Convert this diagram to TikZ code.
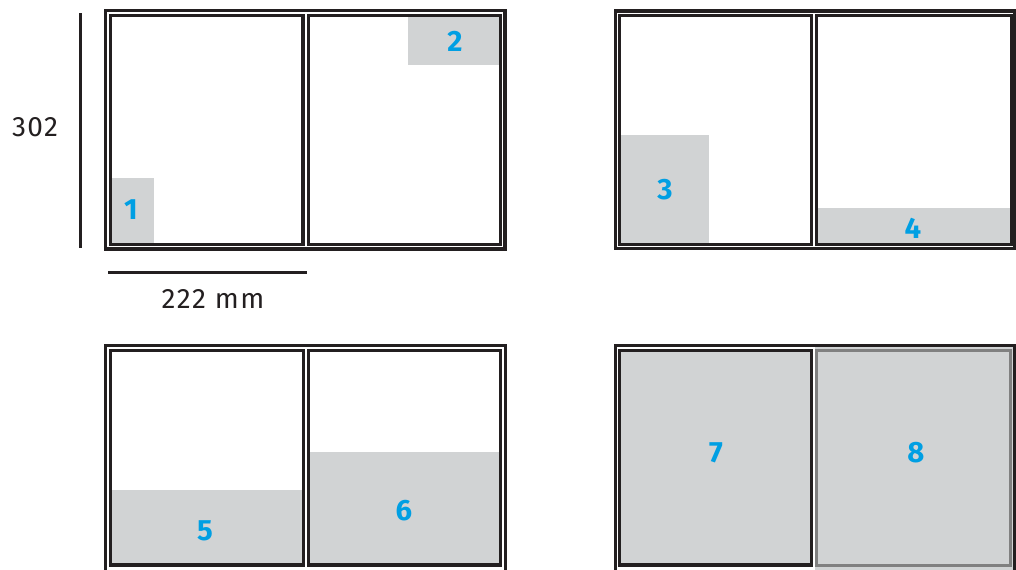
\documentclass[tikz,border=0pt]{standalone}
\usepackage{fontspec}
\setmainfont{Fira Sans}
\newfontfamily\dimfont[LetterSpace=5]{Fira Sans}
\definecolor{ink}{HTML}{231F20}
\definecolor{paper}{HTML}{D1D3D4}
\definecolor{pgrey}{HTML}{808080}
\definecolor{num}{HTML}{009FE3}
\begin{document}
\begin{tikzpicture}[x=0.75pt,y=-0.75pt,
  frame/.style={draw=ink,line width=2.3pt},
  greyframe/.style={draw=pgrey,line width=2.3pt},
  shade/.style={fill=paper},
  numlabel/.style={text=num,font=\fontsize{22}{24}\selectfont\bfseries,inner sep=0pt},
  dimlabel/.style={text=ink,font=\dimfont\fontsize{21}{24}\selectfont,inner sep=0pt},
  dimline/.style={draw=ink,line width=1.9pt}]
\useasboundingbox (0,0) rectangle (1016,569);
\clip (0,0) rectangle (1016,569);

% ---------- shaded areas ----------
\fill[shade] (111.5,178) rectangle (154,243);
\fill[shade] (408,16) rectangle (499.5,65);
\fill[shade] (620.5,135) rectangle (709,243);
\fill[shade] (817.5,208) rectangle (1010,243);
\fill[shade] (111.5,490) rectangle (302,564);
\fill[shade] (309.5,452) rectangle (499.5,564);
\fill[shade] (619.8,350.8) rectangle (811.3,565);
\fill[shade] (814.5,347.3) rectangle (1013.3,575);

% ---------- spread A (top left) ----------
\draw[frame] (105.8,10.8) rectangle (505,249);
\draw[frame] (110.5,15.5) rectangle (303,244.3);
\draw[frame] (308.3,15.5) rectangle (500.5,244.3);

% ---------- spread B (top right) ----------
\draw[frame] (615.3,11) rectangle (1014.8,248.8);
\draw[frame] (619.6,15.5) rectangle (811.3,244.3);
\draw[frame] (816.3,15.5) rectangle (1011.2,244.3);

% ---------- spread C (bottom left) ----------
\draw[frame] (105.7,345.7) rectangle (505.7,573);
\draw[frame] (110.7,350.8) rectangle (303.2,565);
\draw[frame] (308.7,350.8) rectangle (500.5,565);

% ---------- spread D (bottom right) ----------
\draw[frame] (615.2,345.7) rectangle (1014.8,573);
\draw[frame] (619.8,350.8) rectangle (811.3,565);
\draw[greyframe] (816.5,350.8) rectangle (1010.8,565.5);

% ---------- dimensions ----------
\coordinate (vtop) at (80.5,13);
\coordinate (vbot) at (80.5,248);
\coordinate (hl) at (108,272.5);
\coordinate (hr) at (307,272.5);
\draw[dimline] (vtop) -- (vbot);
\draw[dimline] (hl) -- (hr);
\node[dimlabel] (h302) at (35,127.5) {302};
\node[dimlabel] (w222) at (213,299) {222 mm};

% ---------- numbers ----------
\node[numlabel] (n1) at (131,210) {1};
\node[numlabel] (n2) at (455,41) {2};
\node[numlabel] (n3) at (665,190) {3};
\node[numlabel] (n4) at (913,228) {4};
\node[numlabel] (n5) at (205,531) {5};
\node[numlabel] (n6) at (404,511) {6};
\node[numlabel] (n7) at (716,453) {7};
\node[numlabel] (n8) at (916,453) {8};
\end{tikzpicture}
\end{document}
